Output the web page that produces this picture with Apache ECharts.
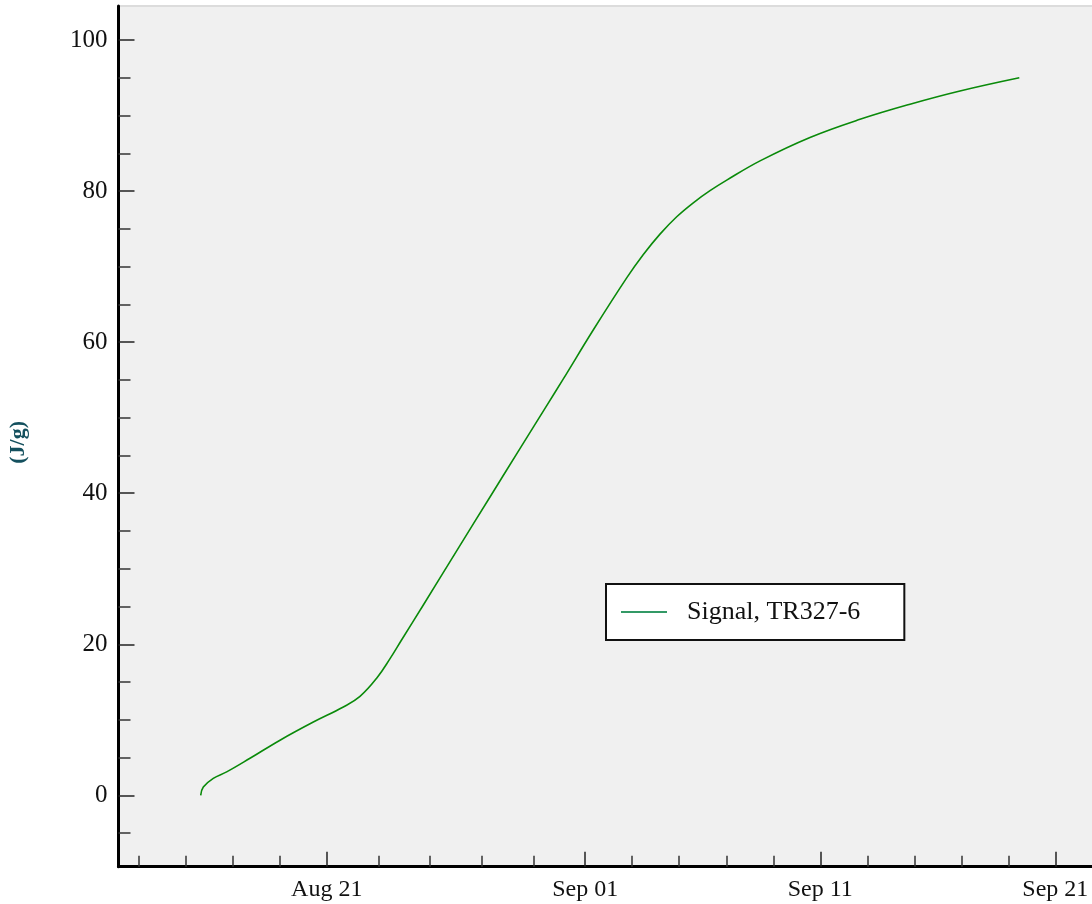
<!DOCTYPE html>
<html>
<head>
<meta charset="utf-8">
<title>Signal, TR327-6</title>
<script src="https://cdn.jsdelivr.net/npm/echarts@6/dist/echarts.min.js"></script>
<style>
  html, body { margin: 0; padding: 0; background: #ffffff; }
  #chart { width: 1092px; height: 904px; }
</style>
</head>
<body>
<div id="chart"></div>
<script>
// Sample times (local time) and heat values in J/g
const sampleTimes = [
  '2021-08-15 15:20', '2021-08-15 18:00', '2021-08-16 04:10', '2021-08-16 17:50',
  '2021-08-17 17:40', '2021-08-19 00:20', '2021-08-20 10:20', '2021-08-21 17:00',
  '2021-08-22 10:00', '2021-08-23 03:00', '2021-08-23 16:40', '2021-08-24 04:35',
  '2021-08-25 02:40', '2021-08-26 16:10', '2021-08-27 22:45', '2021-08-29 05:20',
  '2021-08-30 08:40', '2021-08-31 01:00', '2021-09-01 08:10', '2021-09-02 18:20',
  '2021-09-03 11:20', '2021-09-04 04:20', '2021-09-04 21:25', '2021-09-05 14:20',
  '2021-09-06 07:25', '2021-09-07 00:30', '2021-09-08 10:30',
  '2021-09-10 13:30', '2021-09-12 16:35', '2021-09-14 19:40', '2021-09-16 22:40',
  '2021-09-19 11:15'
];
const signalValues = [
  0.0, 1.1, 2.25, 3.1,
  4.9, 7.3, 9.7, 11.7,
  13.1, 15.5, 18.1, 20.6,
  25.2, 33.1, 39.5, 45.9,
  51.6, 55.0, 61.6, 68.5,
  71.6, 74.3, 76.6, 78.45,
  80.05, 81.45, 84.0,
  87.1, 89.5, 91.5, 93.25,
  95.0
];
const seriesName = 'Signal, TR327-6';
const yAxisName = '(J/g)';

// Axis ranges and tick positions
const xRange = ['2021-08-12 03:23', '2021-09-22 15:32'];
const xMajorDates = ['2021-08-11 00:00', '2021-08-21 00:00', '2021-09-01 00:00', '2021-09-11 00:00', '2021-09-21 00:00', '2021-10-01 00:00'];
const yRange = [-9.45, 104.5];
const yMajorTicks = [0, 20, 40, 60, 80, 100];
const yMinorTicks = [-5, 5, 10, 15, 25, 30, 35, 45, 50, 55, 65, 70, 75, 85, 90, 95];

const MONTHS = ['Jan', 'Feb', 'Mar', 'Apr', 'May', 'Jun', 'Jul', 'Aug', 'Sep', 'Oct', 'Nov', 'Dec'];

function toTime(s) {
  const [d, t] = s.split(' ');
  const [Y, M, D] = d.split('-').map(Number);
  const [h, mi] = t.split(':').map(Number);
  return new Date(Y, M - 1, D, h, mi).getTime();
}

const xMin = toTime(xRange[0]);
const xMax = toTime(xRange[1]);
const majorTimes = xMajorDates.map(toTime);
const inRange = v => v >= xMin && v <= xMax;
const xMajorTicks = majorTimes.filter(inRange);
// each labelled interval is split into five minor steps
const xMinorTicks = [];
for (let i = 0; i < majorTimes.length - 1; i++) {
  const a = majorTimes[i], b = majorTimes[i + 1];
  for (let k = 1; k < 5; k++) xMinorTicks.push(a + (b - a) * k / 5);
}
const xMinorInRange = xMinorTicks.filter(inRange);

const seriesData = sampleTimes.map((t, i) => [toTime(t), signalValues[i]]);

const FONT = 'Liberation Serif';

function dateLabel(v) {
  const d = new Date(Math.round(v));
  return MONTHS[d.getMonth()] + ' ' + String(d.getDate()).padStart(2, '0');
}

const chart = echarts.init(document.getElementById('chart'), null, { renderer: 'canvas' });
chart.setOption({
  backgroundColor: '#ffffff',
  animation: false,
  grid: {
    left: 118.5, right: -2, top: 6, bottom: 37.3,
    outerBoundsMode: 'none',
    containLabel: false,
    show: true,
    backgroundColor: '#f0f0f0',
    borderColor: '#dcdcdc',
    borderWidth: 2
  },
  legend: {
    left: 606, top: 584,
    orient: 'horizontal',
    backgroundColor: '#ffffff',
    borderColor: '#111111',
    borderWidth: 2,
    padding: [15, 44, 15, 15],
    icon: 'rect',
    itemWidth: 46,
    itemHeight: 2,
    itemStyle: { color: '#339966' },
    textStyle: { fontFamily: FONT, fontSize: 26, color: '#111111', padding: [0, 0, 0, 15] },
    data: [seriesName]
  },
  xAxis: [
    {
      type: 'value',
      min: xMin, max: xMax,
      position: 'bottom',
      axisLine: { show: true, onZero: false, lineStyle: { color: '#000000', width: 3 } },
      axisTick: { show: true, inside: true, length: 15, customValues: xMajorTicks, lineStyle: { color: '#222222', width: 1.5 } },
      axisLabel: {
        show: true, margin: 11, customValues: xMajorTicks,
        fontFamily: FONT, fontSize: 24, color: '#111111',
        formatter: dateLabel
      },
      splitLine: { show: false }
    },
    {
      type: 'value',
      min: xMin, max: xMax,
      position: 'bottom',
      axisLine: { show: false, onZero: false },
      axisTick: { show: true, inside: true, length: 11, customValues: xMinorInRange, lineStyle: { color: '#333333', width: 1.5 } },
      axisLabel: { show: false },
      splitLine: { show: false }
    }
  ],
  yAxis: [
    {
      type: 'value',
      min: yRange[0], max: yRange[1],
      position: 'left',
      name: yAxisName,
      nameLocation: 'middle',
      nameRotate: 90,
      nameGap: 89,
      nameTextStyle: { fontFamily: FONT, fontSize: 22, fontWeight: 'bold', color: '#14505e', padding: [0, 12, 0, 0] },
      axisLine: { show: true, onZero: false, lineStyle: { color: '#000000', width: 3 } },
      axisTick: { show: true, inside: true, length: 16, customValues: yMajorTicks, lineStyle: { color: '#222222', width: 1.5 } },
      axisLabel: { show: true, margin: 11, customValues: yMajorTicks, fontFamily: FONT, fontSize: 25, color: '#111111' },
      splitLine: { show: false }
    },
    {
      type: 'value',
      min: yRange[0], max: yRange[1],
      position: 'left',
      axisLine: { show: false, onZero: false },
      axisTick: { show: true, inside: true, length: 12, customValues: yMinorTicks, lineStyle: { color: '#333333', width: 1.5 } },
      axisLabel: { show: false },
      splitLine: { show: false }
    }
  ],
  series: [
    {
      name: seriesName,
      type: 'line',
      xAxisIndex: 0,
      yAxisIndex: 0,
      data: seriesData,
      smooth: 0.4,
      showSymbol: false,
      symbol: 'none',
      lineStyle: { color: '#0a8a0a', width: 1.6 },
      itemStyle: { color: '#0a8a0a' }
    }
  ]
});
</script>
</body>
</html>
